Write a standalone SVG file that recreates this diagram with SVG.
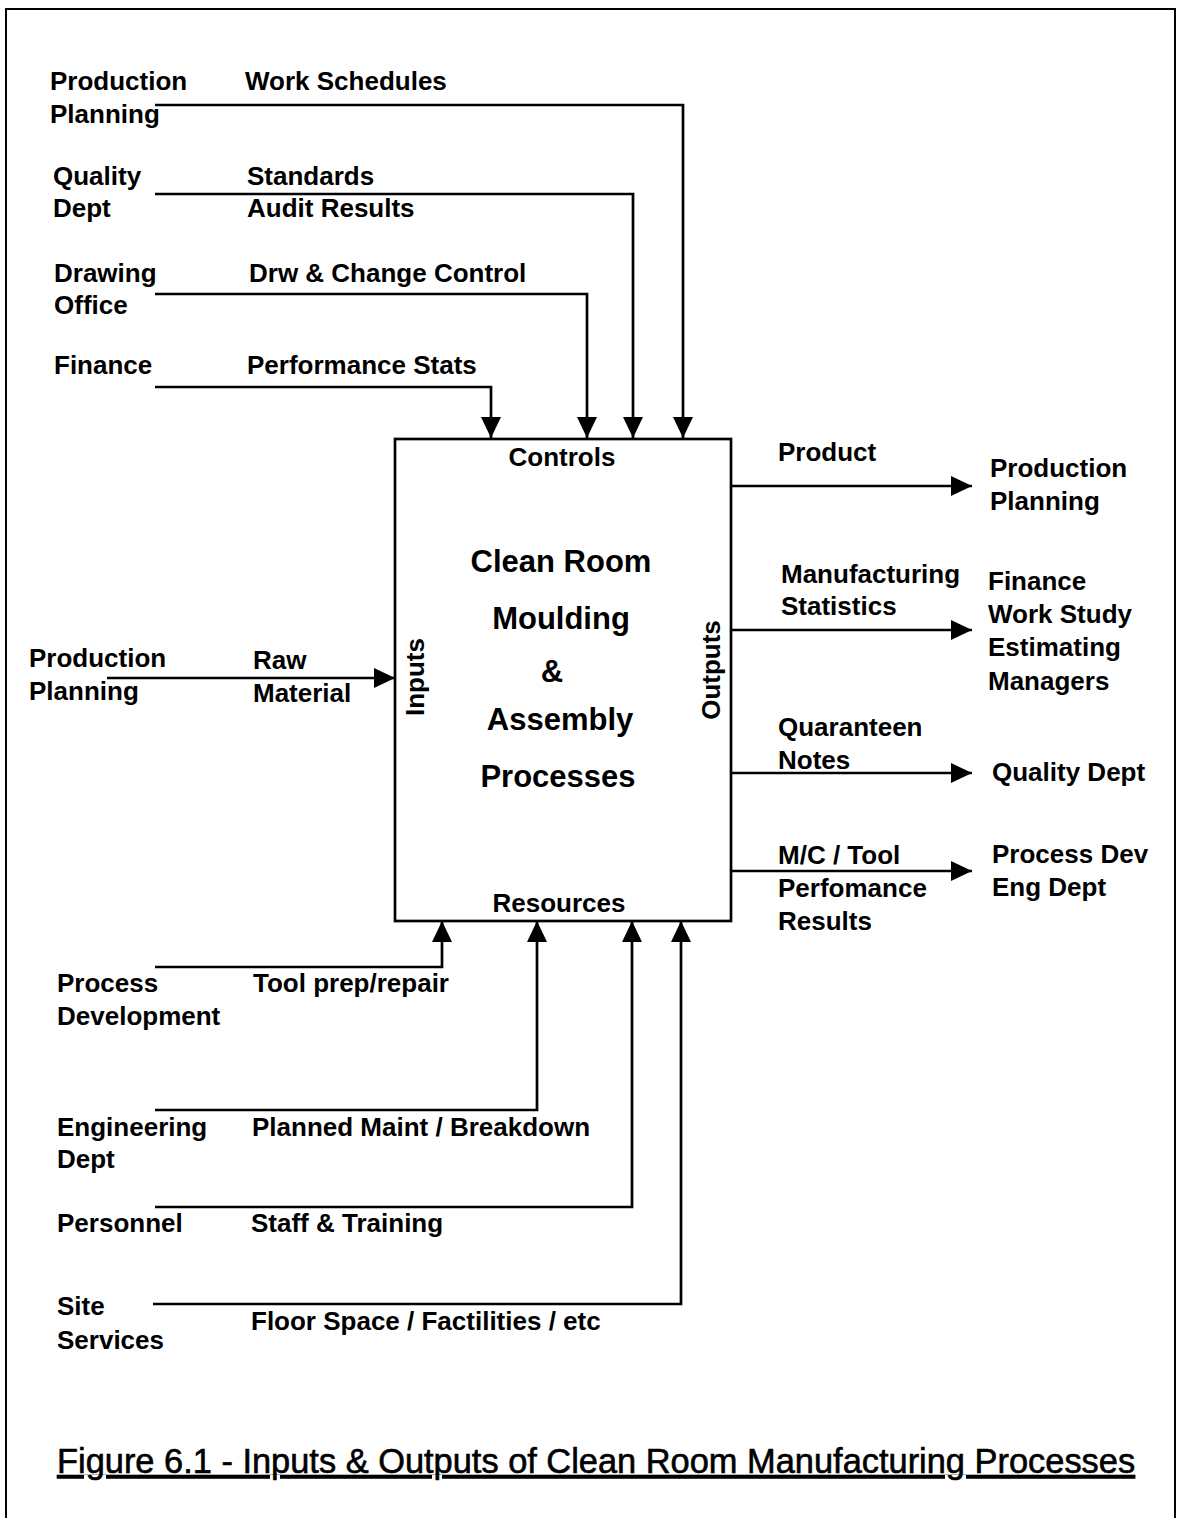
<svg xmlns="http://www.w3.org/2000/svg" width="1182" height="1518" viewBox="0 0 1182 1518">
  <defs>
    <marker id="arrow" markerUnits="userSpaceOnUse" markerWidth="24" markerHeight="22" refX="21" refY="10" orient="auto">
      <path d="M0,0 L21,10 L0,20 Z" fill="#000"/>
    </marker>
    <style>
      text { font-family: "Liberation Sans", Arial, sans-serif; font-weight: bold; font-size: 26px; fill: #000; }
      .title { font-size: 31px; }
      .cap { font-weight: normal; font-size: 34.4px; text-decoration: underline; stroke: #000; stroke-width: 0.6; }
      .mid { text-anchor: middle; }
      .link { fill: none; stroke: #000; stroke-width: 2.7; marker-end: url(#arrow); }
      .frame { fill: none; stroke: #000; stroke-width: 2; }
      .box { fill: #fff; stroke: #000; stroke-width: 2.7; }
    </style>
  </defs>
  <rect width="1182" height="1518" fill="#fff"/>
  <!-- page frame, open at the bottom -->
  <path class="frame" d="M6,1518 V9 H1175 V1518"/>

  <!-- connectors -->
  <g id="connectors">
    <!-- controls -->
    <path class="link" d="M155,105 H683 V438"/>
    <path class="link" d="M155,194 H633 V438"/>
    <path class="link" d="M155,294 H587 V438"/>
    <path class="link" d="M155,387 H491 V438"/>
    <!-- input -->
    <path class="link" d="M107,678 H395"/>
    <!-- outputs -->
    <path class="link" d="M731,486 H972"/>
    <path class="link" d="M731,630 H972"/>
    <path class="link" d="M729,773 H972"/>
    <path class="link" d="M726,871 H972"/>
    <!-- resources -->
    <path class="link" d="M155,967 H442 V921"/>
    <path class="link" d="M155,1110 H537 V921"/>
    <path class="link" d="M155,1207 H632 V921"/>
    <path class="link" d="M153,1304 H681 V921"/>
  </g>

  <!-- central process -->
  <g id="process">
    <rect class="box" x="395" y="439" width="336" height="482"/>
    <text class="mid" x="562" y="466">Controls</text>
    <text class="title mid" x="561" y="572">Clean Room</text>
    <text class="title mid" x="561" y="629">Moulding</text>
    <text class="title mid" x="552" y="682">&amp;</text>
    <text class="title mid" x="560" y="730">Assembly</text>
    <text class="title mid" x="558" y="787">Processes</text>
    <text class="mid" x="559" y="912">Resources</text>
    <text class="mid" transform="translate(424,677) rotate(-90)">Inputs</text>
    <text class="mid" transform="translate(720,670) rotate(-90)">Outputs</text>
  </g>

  <!-- control sources -->
  <g id="ctl-production-planning">
    <text x="50" y="90">Production</text>
    <text x="50" y="123">Planning</text>
    <text x="245" y="90">Work Schedules</text>
  </g>
  <g id="ctl-quality">
    <text x="53" y="185">Quality</text>
    <text x="53" y="217">Dept</text>
    <text x="247" y="185">Standards</text>
    <text x="247" y="217">Audit Results</text>
  </g>
  <g id="ctl-drawing-office">
    <text x="54" y="282">Drawing</text>
    <text x="54" y="314">Office</text>
    <text x="249" y="282">Drw &amp; Change Control</text>
  </g>
  <g id="ctl-finance">
    <text x="54" y="374">Finance</text>
    <text x="247" y="374">Performance Stats</text>
  </g>

  <!-- input source -->
  <g id="in-production-planning">
    <text x="29" y="667">Production</text>
    <text x="29" y="700">Planning</text>
    <text x="253" y="669">Raw</text>
    <text x="253" y="702">Material</text>
  </g>

  <!-- output destinations -->
  <g id="out-product">
    <text x="778" y="461">Product</text>
    <text x="990" y="477">Production</text>
    <text x="990" y="510">Planning</text>
  </g>
  <g id="out-statistics">
    <text x="781" y="583">Manufacturing</text>
    <text x="781" y="615">Statistics</text>
    <text x="988" y="590">Finance</text>
    <text x="988" y="623">Work Study</text>
    <text x="988" y="656">Estimating</text>
    <text x="988" y="690">Managers</text>
  </g>
  <g id="out-quality">
    <text x="778" y="736">Quaranteen</text>
    <text x="778" y="769">Notes</text>
    <text x="992" y="781">Quality Dept</text>
  </g>
  <g id="out-process-dev">
    <text x="778" y="864">M/C / Tool</text>
    <text x="778" y="897">Perfomance</text>
    <text x="778" y="930">Results</text>
    <text x="992" y="863">Process Dev</text>
    <text x="992" y="896">Eng Dept</text>
  </g>

  <!-- resource sources -->
  <g id="res-process-development">
    <text x="57" y="992">Process</text>
    <text x="57" y="1025">Development</text>
    <text x="253" y="992">Tool prep/repair</text>
  </g>
  <g id="res-engineering">
    <text x="57" y="1136">Engineering</text>
    <text x="57" y="1168">Dept</text>
    <text x="252" y="1136">Planned Maint / Breakdown</text>
  </g>
  <g id="res-personnel">
    <text x="57" y="1232">Personnel</text>
    <text x="251" y="1232">Staff &amp; Training</text>
  </g>
  <g id="res-site-services">
    <text x="57" y="1315">Site</text>
    <text x="57" y="1349">Services</text>
    <text x="251" y="1330">Floor Space / Factilities / etc</text>
  </g>

  <!-- caption -->
  <text class="cap" x="57" y="1473">Figure 6.1 - Inputs &amp; Outputs of Clean Room Manufacturing Processes</text>
</svg>
